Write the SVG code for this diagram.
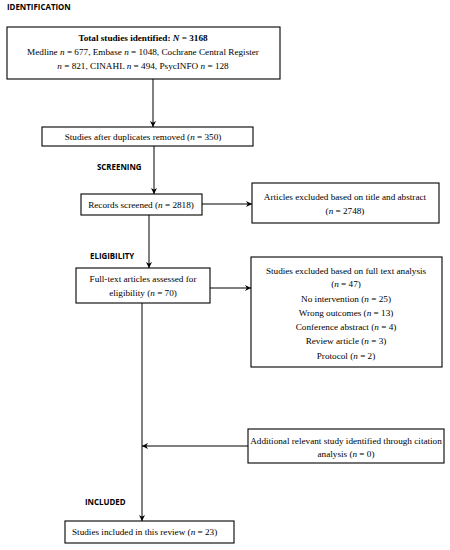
<svg xmlns="http://www.w3.org/2000/svg" width="450" height="550" viewBox="0 0 450 550">
<style>
.box{fill:#fff;stroke:#000;stroke-width:1.1}
.t{font-family:"Liberation Serif","Times New Roman",serif;font-size:9.2px;fill:#000;text-anchor:middle}
.l{font-family:"Open Sans","Liberation Sans",sans-serif;font-size:7.9px;font-weight:bold;fill:#000}
.c{stroke:#000;stroke-width:1;fill:none}
</style>
<defs>
<marker id="ah" viewBox="0 0 10 10" refX="10" refY="5" markerWidth="6" markerHeight="6" orient="auto" markerUnits="userSpaceOnUse">
<path d="M0,0 L10,5 L0,10 L3,5 Z" fill="#000"/>
</marker>
</defs>
<rect width="450" height="550" fill="#fff"/>
<g id="labels">
<text class="l" x="7" y="10">IDENTIFICATION</text>
<text class="l" x="97" y="170">SCREENING</text>
<text class="l" x="90" y="259">ELIGIBILITY</text>
<text class="l" x="85" y="505">INCLUDED</text>
</g>
<g id="connectors">
<line class="c" x1="153" y1="79" x2="153" y2="127" marker-end="url(#ah)"/>
<line class="c" x1="154" y1="146" x2="154" y2="194" marker-end="url(#ah)"/>
<line class="c" x1="202" y1="204" x2="252" y2="204" marker-end="url(#ah)"/>
<line class="c" x1="149" y1="215" x2="149" y2="268" marker-end="url(#ah)"/>
<line class="c" x1="210" y1="288" x2="251" y2="288" marker-end="url(#ah)"/>
<line class="c" x1="142" y1="303" x2="142" y2="521" marker-end="url(#ah)"/>
<line class="c" x1="248" y1="446" x2="142" y2="446" marker-end="url(#ah)"/>
</g>
<g id="n1">
<rect class="box" x="7" y="27" width="273" height="52"/>
<text class="t" x="143" y="41" font-weight="bold">Total studies identified: <tspan font-style="italic">N</tspan> = 3168</text>
<text class="t" x="143" y="55">Medline <tspan font-style="italic">n</tspan> = 677, Embase <tspan font-style="italic">n</tspan> = 1048, Cochrane Central Register</text>
<text class="t" x="143" y="69"><tspan font-style="italic">n</tspan> = 821, CINAHL <tspan font-style="italic">n</tspan> = 494, PsycINFO <tspan font-style="italic">n</tspan> = 128</text>
</g>
<g id="n2">
<rect class="box" x="42" y="127" width="211" height="19"/>
<text class="t" x="143" y="140">Studies after duplicates removed (<tspan font-style="italic">n</tspan> = 350)</text>
</g>
<g id="n3">
<rect class="box" x="81" y="194" width="121" height="21"/>
<text class="t" x="141" y="208">Records screened (<tspan font-style="italic">n</tspan> = 2818)</text>
</g>
<g id="n4">
<rect class="box" x="252" y="183" width="187" height="40"/>
<text class="t" x="345" y="200">Articles excluded based on title and abstract</text>
<text class="t" x="345" y="214">(<tspan font-style="italic">n</tspan> = 2748)</text>
</g>
<g id="n5">
<rect class="box" x="76" y="268" width="134" height="35"/>
<text class="t" x="143" y="282">Full-text articles assessed for</text>
<text class="t" x="143" y="296">eligibility (<tspan font-style="italic">n</tspan> = 70)</text>
</g>
<g id="n6">
<rect class="box" x="251" y="257" width="191" height="110"/>
<text class="t" x="346" y="274">Studies excluded based on full text analysis</text>
<text class="t" x="346" y="287">(<tspan font-style="italic">n</tspan> = 47)</text>
<text class="t" x="346" y="302">No intervention (<tspan font-style="italic">n</tspan> = 25)</text>
<text class="t" x="346" y="316">Wrong outcomes (<tspan font-style="italic">n</tspan> = 13)</text>
<text class="t" x="346" y="330">Conference abstract (<tspan font-style="italic">n</tspan> = 4)</text>
<text class="t" x="346" y="344">Review article (<tspan font-style="italic">n</tspan> = 3)</text>
<text class="t" x="346" y="359">Protocol (<tspan font-style="italic">n</tspan> = 2)</text>
</g>
<g id="n7">
<rect class="box" x="248" y="429" width="196" height="34"/>
<text class="t" x="346" y="444">Additional relevant study identified through citation</text>
<text class="t" x="346" y="457">analysis (<tspan font-style="italic">n</tspan> = 0)</text>
</g>
<g id="n8">
<rect class="box" x="65" y="521" width="169" height="22"/>
<text class="t" x="72" y="535" style="text-anchor:start">Studies included in this review (<tspan font-style="italic">n</tspan> = 23)</text>
</g>
</svg>
